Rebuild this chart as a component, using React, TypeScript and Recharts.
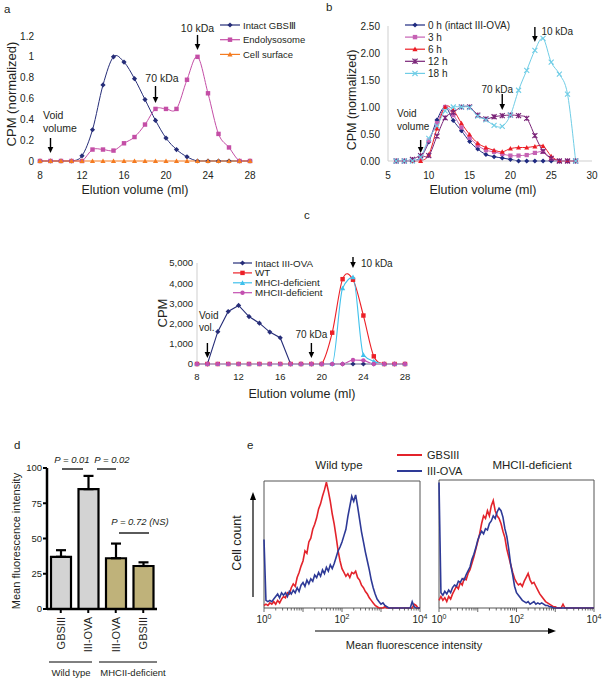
import React from 'react';
import { LineChart, Line, XAxis, YAxis, ReferenceDot, ReferenceArea, BarChart, Bar, Cell, ErrorBar } from 'recharts';

const FONT = '"Liberation Sans", Arial, Helvetica, sans-serif';
const INK = '#231f20';

// ---------------- Panel a ----------------
const aVolumes = [8, 9, 10, 11, 12, 13, 14, 15, 16, 17, 18, 19, 20, 21, 22, 23, 24, 25, 26, 27, 28];
const aIntactGBSIII = [0, 0, 0, 0, 0.05, 0.3, 0.73, 1.0, 0.95, 0.79, 0.59, 0.39, 0.22, 0.11, 0.04, 0, 0, 0, 0, 0, 0];
const aEndolysosome = [0, 0, 0, 0, 0, 0.11, 0.11, 0.1, 0.17, 0.23, 0.35, 0.5, 0.5, 0.5, 0.78, 1.0, 0.65, 0.26, 0.13, 0, 0];
const aCellSurface = [0, 0, 0, 0, 0, 0, 0, 0, 0, 0, 0, 0, 0, 0, 0, 0, 0, 0, 0, 0, 0];
const aNames = ['Intact GBS\u2162', 'Endolysosome', 'Cell  surface'];
const aColors = ['#262d78', '#c44ea6', '#f47b20'];
const aShapes = ['diamond', 'square', 'triangle'];
const aYTicks = [0, 0.2, 0.4, 0.6, 0.8, 1, 1.2];
const aXTicks = [8, 12, 16, 20, 24, 28];

// ---------------- Panel b ----------------
const bVolumes = [6, 7, 8, 9, 10, 11, 12, 13, 14, 15, 16, 17, 18, 19, 20, 21, 22, 23, 24, 25, 26, 27, 28];
const b0h = [0, 0, 0, 0.07, 0.35, 0.76, 1.0, 0.75, 0.56, 0.36, 0.22, 0.12, 0.08, 0.055, 0.03, 0, 0, 0, 0, 0, 0, 0, 0];
const b3h = [0, 0, 0, 0.05, 0.38, 0.7, 1.0, 0.85, 0.62, 0.43, 0.29, 0.2, 0.17, 0.13, 0.1, 0.1, 0.11, 0.15, 0.17, 0.05, 0, 0, 0];
const b6h = [0, 0, 0, 0, 0.12, 0.6, 1.0, 0.94, 0.7, 0.49, 0.33, 0.25, 0.2, 0.17, 0.23, 0.25, 0.25, 0.27, 0.28, 0.09, 0, 0, 0];
const b12h = [0, 0, 0.03, 0.1, 0.1, 0.46, 0.8, 0.9, 1.0, 1.0, 0.85, 0.78, 0.82, 0.84, 0.85, 0.84, 0.79, 0.47, 0.18, 0.05, 0, 0, 0];
const b18h = [0, 0, 0, 0.07, 0.42, 0.65, 0.93, 1.0, 1.0, 0.99, 0.83, 0.76, 0.66, 0.64, 0.85, 1.31, 1.68, 2.05, 2.27, 1.83, 1.61, 1.24, 0];
const bNames = ['0 h (intact III-OVA)', '3 h', '6 h', '12 h', '18 h'];
const bColors = ['#1f2a80', '#c662b4', '#ec1c24', '#7a2478', '#6fcde6'];
const bShapes = ['diamond', 'square', 'triangle', 'star', 'x'];
const bYTicks = [0, 0.5, 1, 1.5, 2, 2.5];
const bXTicks = [5, 10, 15, 20, 25, 30];

// ---------------- Panel c ----------------
const cVolumes = [8, 9, 10, 11, 12, 13, 14, 15, 16, 17, 18, 19, 20, 21, 22, 23, 24, 25, 26, 27, 28];
const cIntact = [0, 0, 1600, 2600, 2900, 2350, 2020, 1580, 1300, 0, 0, 0, 0, 0, 0, 0, 0, 0, 0, 0, 0];
const cWT = [0, 0, 0, 0, 0, 0, 0, 0, 0, 0, 0, 0, 0, 1550, 4200, 4170, 2400, 380, 0, 0, 0];
const cMHCI = [0, 0, 0, 0, 0, 0, 0, 0, 0, 0, 0, 0, 0, 0, 3750, 4300, 450, 130, 0, 0, 0];
const cMHCII = [0, 0, 0, 0, 0, 0, 0, 0, 0, 0, 0, 0, 0, 0, 0, 200, 180, 0, 0, 0, 0];
const cNames = ['Intact III-OVA', 'WT', 'MHCI-deficient', 'MHCII-deficient'];
const cColors = ['#262d78', '#ec2027', '#3fc1ec', '#c34fb0'];
const cShapes = ['diamond', 'square', 'triangle', 'circle'];
const cYTicks = [0, 1000, 2000, 3000, 4000, 5000];
const cXTicks = [8, 12, 16, 20, 24, 28];

// size markers (elution volume of arrows)
const markerVolumes = [9, 19, 23];

// ---------------- Panel d ----------------
const dCategories = ['GBSIII', 'III-OVA', 'III-OVA', 'GBSIII'];
const dGroupOf = [0, 0, 1, 1];
const dGroups = ['Wild type', 'MHCII-deficient'];
const dGroupColors = ['#d3d3d3', '#bfb27a'];
const dMeans = [37, 85, 36, 30.5];
const dErrors = [4.7, 9.4, 10.4, 2.6];
const dYTicks = [0, 25, 50, 75, 100];

// ---------------- Panel e (histograms, 20 bins per decade, 10^0..10^4) ----------------
const eWtGBSIII = [
  2, 3, 2, 4, 3, 5, 3, 6, 4, 7,
  9, 8, 12, 11, 16, 19, 17, 24, 28, 33,
  37, 45, 43, 52, 55, 62, 66, 71, 78, 82,
  88, 93, 99, 92, 84, 74, 66, 56, 45, 37,
  31, 28, 25, 27, 24, 28, 27, 29, 24, 22,
  18, 16, 13, 11, 8, 6, 4, 2, 1, 0,
  0, 0, 1, 0, 0, 0, 0, 0, 0, 0,
  0, 0, 0, 0, 0, 0, 0, 3, 2, 0,
  0,
];
const eWtIIIOVA = [
  54, 6, 5, 6, 5, 7, 9, 11, 8, 12,
  10, 12, 9, 13, 11, 14, 12, 16, 13, 18,
  20, 17, 22, 19, 23, 21, 26, 24, 28, 25,
  30, 27, 32, 29, 34, 31, 35, 40, 45, 48,
  52, 57, 62, 72, 80, 88, 84, 89, 80, 70,
  60, 52, 44, 37, 30, 22, 16, 11, 7, 5,
  3, 4, 2, 1, 0, 0, 0, 0, 0, 0,
  0, 0, 0, 0, 0, 0, 5, 1, 0, 0,
  0,
];
const eKoGBSIII = [
  6, 9, 6, 8, 5, 9, 7, 11, 14, 17,
  15, 20, 18, 23, 22, 27, 30, 35, 40, 46,
  52, 58, 66, 72, 70, 76, 72, 80, 84, 76,
  72, 70, 66, 60, 55, 46, 40, 34, 28, 23,
  20, 18, 19, 17, 21, 24, 27, 22, 19, 20,
  17, 14, 11, 9, 7, 5, 4, 3, 2, 1,
  1, 0, 0, 0, 3, 0, 0, 0, 0, 0,
  0, 0, 0, 0, 0, 0, 0, 0, 0, 0,
  0,
];
const eKoIIIOVA = [
  98, 12, 10, 13, 11, 14, 12, 16, 18, 17,
  21, 20, 23, 22, 26, 29, 32, 38, 42, 47,
  53, 57, 60, 58, 62, 61, 66, 68, 72, 70,
  75, 78, 76, 71, 62, 56, 46, 34, 26, 17,
  12, 10, 8, 6, 5, 4, 5, 3, 4, 5,
  3, 4, 3, 4, 3, 2, 2, 1, 1, 0,
  0, 0, 0, 0, 0, 0, 0, 0, 0, 0,
  0, 0, 0, 0, 0, 0, 0, 0, 0, 0,
  0,
];
const eNames = ['GBSIII', 'III-OVA'];
const eColors = ['#e3232b', '#2e3a97'];

// ---------- helpers ----------
// Excel-like smoothed line (Catmull-Rom), with control points kept above the lowest data point
const smooth: any = (context: any) => {
  let pts: number[][] = [];
  return {
    areaStart() {},
    areaEnd() {},
    lineStart() {
      pts = [];
    },
    point(x: number, y: number) {
      pts.push([+x, +y]);
    },
    lineEnd() {
      const n = pts.length;
      if (!n) return;
      const maxY = Math.max(...pts.map((p) => p[1]));
      const cl = (v: number) => Math.min(v, maxY);
      context.moveTo(pts[0][0], pts[0][1]);
      for (let i = 0; i < n - 1; i++) {
        const p0 = pts[Math.max(i - 1, 0)];
        const p1 = pts[i];
        const p2 = pts[i + 1];
        const p3 = pts[Math.min(i + 2, n - 1)];
        context.bezierCurveTo(
          p1[0] + (p2[0] - p0[0]) / 6,
          cl(p1[1] + (p2[1] - p0[1]) / 6),
          p2[0] - (p3[0] - p1[0]) / 6,
          cl(p2[1] - (p3[1] - p1[1]) / 6),
          p2[0],
          p2[1]
        );
      }
    },
  };
};

const Marker = ({ shape, cx, cy, color, s = 2.6 }: any) => {
  if (cx == null || cy == null) return null;
  switch (shape) {
    case 'diamond':
      return <path d={`M${cx},${cy - s}L${cx + s},${cy}L${cx},${cy + s}L${cx - s},${cy}Z`} fill={color} />;
    case 'square':
      return <rect x={cx - s * 0.85} y={cy - s * 0.85} width={s * 1.7} height={s * 1.7} fill={color} />;
    case 'triangle':
      return <path d={`M${cx},${cy - s}L${cx + s},${cy + s * 0.8}L${cx - s},${cy + s * 0.8}Z`} fill={color} />;
    case 'circle':
      return <circle cx={cx} cy={cy} r={s * 0.85} fill={color} />;
    case 'x':
      return (
        <path d={`M${cx - s},${cy - s}L${cx + s},${cy + s}M${cx - s},${cy + s}L${cx + s},${cy - s}`} stroke={color} strokeWidth={1.1} fill="none" />
      );
    case 'star':
      return (
        <path
          d={`M${cx - s},${cy - s}L${cx + s},${cy + s}M${cx - s},${cy + s}L${cx + s},${cy - s}M${cx},${cy - s}L${cx},${cy + s}`}
          stroke={color}
          strokeWidth={1.2}
          fill="none"
        />
      );
    default:
      return null;
  }
};

const dotOf = (shape: string, color: string, s = 2.6) => (p: any) => (
  <g key={`dot-${p.index}`}>
    <Marker shape={shape} cx={p.cx} cy={p.cy} color={color} s={s} />
  </g>
);

const Arrow = ({ cx, cy, len, lines, dx, dys, anchor, fontSize = 10 }: any) => (
  <g>
    <line x1={cx} y1={cy - len} x2={cx} y2={cy - 5} stroke="#000" strokeWidth={1.4} />
    <path d={`M${cx - 2.8},${cy - 6}L${cx + 2.8},${cy - 6}L${cx},${cy}Z`} fill="#000" />
    {lines.map((t: string, i: number) => (
      <text key={i} x={cx + dx} y={cy + dys[i]} textAnchor={anchor} dominantBaseline="central" fontSize={fontSize} fill={INK} fontFamily={FONT}>
        {t}
      </text>
    ))}
  </g>
);

const LegendBlock = ({ x0, y0, dy, names, colors, shapes, lineLen, fontSize }: any) => (
  <g>
    {names.map((n: string, i: number) => {
      const y = y0 + i * dy;
      return (
        <g key={i}>
          <line x1={x0} x2={x0 + lineLen} y1={y} y2={y} stroke={colors[i]} strokeWidth={1.2} />
          <Marker shape={shapes[i]} cx={x0 + lineLen / 2} cy={y} color={colors[i]} s={2.6} />
          <text x={x0 + lineLen + 3} y={y} dominantBaseline="central" fontSize={fontSize} fill={INK} fontFamily={FONT}>
            {n}
          </text>
        </g>
      );
    })}
  </g>
);

const tickStyle = (fs: number) => ({ fontSize: fs, fill: INK, fontFamily: FONT });
const thousands = (v: number) => String(v).replace(/\B(?=(\d{3})+(?!\d))/g, ',');

// ---------- data tables ----------
const aData = aVolumes.map((x, i) => ({ x, s0: aIntactGBSIII[i], s1: aEndolysosome[i], s2: aCellSurface[i] }));
const aSeries = [aIntactGBSIII, aEndolysosome, aCellSurface];
const bData = bVolumes.map((x, i) => ({ x, s0: b0h[i], s1: b3h[i], s2: b6h[i], s3: b12h[i], s4: b18h[i] }));
const bSeries = [b0h, b3h, b6h, b12h, b18h];
const cData = cVolumes.map((x, i) => ({ x, s0: cIntact[i], s1: cWT[i], s2: cMHCI[i], s3: cMHCII[i] }));
const dData = dCategories.map((c, i) => ({ idx: i, mean: dMeans[i], err: [0, dErrors[i]] }));
const eLeftData = eWtGBSIII.map((v, i) => ({ bin: i, g: v, o: eWtIIIOVA[i] }));
const eRightData = eKoGBSIII.map((v, i) => ({ bin: i, g: v, o: eKoIIIOVA[i] }));

const logTicks: number[] = [];
for (let d = 0; d < 4; d++) for (let k = 1; k < 10; k++) logTicks.push(20 * (d + Math.log10(k)));
logTicks.push(80);

const LogTick = (props: any) => {
  const { x, y, payload } = props;
  const v = payload.value;
  const dec = Math.round(v / 20);
  const major = Math.abs(v - dec * 20) < 1e-6;
  return (
    <g>
      <line x1={x} x2={x} y1={y} y2={y + (major ? 4 : 2.5)} stroke="#444" strokeWidth={0.8} />
      {major && dec % 2 === 0 && (
        <text x={x} y={y + 15} textAnchor="middle" fontSize={10} fill={INK} fontFamily={FONT}>
          10<tspan dy={-4} fontSize={7}>{dec}</tspan>
        </text>
      )}
    </g>
  );
};

const CatTick = (props: any) => {
  const { x, y, payload } = props;
  const tx = x + 4;
  return (
    <text x={tx} y={y} transform={`rotate(-90 ${tx} ${y})`} textAnchor="end" fontSize={11} fill={INK} fontFamily={FONT}>
      {dCategories[payload.value]}
    </text>
  );
};

// ---------- panels ----------
const PanelA = () => (
  <LineChart width={303} height={200} data={aData} margin={{ top: 36, right: 53, bottom: 9, left: 0 }}>
    <XAxis dataKey="x" type="number" domain={[8, 28]} ticks={aXTicks} interval={0} axisLine={false} tickLine={false} tickMargin={5} height={30} tick={tickStyle(10)} />
    <YAxis type="number" domain={[0, 1.2]} ticks={aYTicks} interval={0} axisLine={false} tickLine={false} tickMargin={0} width={40} tick={tickStyle(10)} />
    {aSeries.map((_, i) => (
      <Line key={i} dataKey={`s${i}`} type={smooth} stroke={aColors[i]} strokeWidth={1} dot={dotOf(aShapes[i], aColors[i])} activeDot={false} isAnimationActive={false} />
    ))}
    <ReferenceDot x={markerVolumes[0]} y={0.077} ifOverflow="visible" shape={(p: any) => <Arrow cx={p.cx} cy={p.cy} len={15} lines={['Void', 'volume']} dx={-7.5} dys={[-38, -25]} anchor="start" fontSize={10.5} />} />
    <ReferenceDot x={markerVolumes[1]} y={0.557} ifOverflow="visible" shape={(p: any) => <Arrow cx={p.cx} cy={p.cy} len={17} lines={['70 kDa']} dx={6.5} dys={[-25]} anchor="middle" fontSize={10.5} />} />
    <ReferenceDot x={markerVolumes[2]} y={1.066} ifOverflow="visible" shape={(p: any) => <Arrow cx={p.cx} cy={p.cy} len={15} lines={['10 kDa']} dx={0} dys={[-22]} anchor="middle" fontSize={10.5} />} />
  </LineChart>
);

const PanelB = () => (
  <LineChart width={303} height={200} data={bData} margin={{ top: 26, right: 11, bottom: 9, left: 0 }}>
    <XAxis dataKey="x" type="number" domain={[5, 30]} ticks={bXTicks} interval={0} axisLine={{ stroke: '#cfcfcf' }} tickLine={false} tickMargin={5} height={30} tick={tickStyle(10)} />
    <YAxis type="number" domain={[0, 2.5]} ticks={bYTicks} interval={0} axisLine={{ stroke: '#cfcfcf' }} tickLine={false} tickMargin={2} width={88} tick={tickStyle(10)} tickFormatter={(v: number) => v.toFixed(2)} />
    {bSeries.map((_, i) => (
      <Line key={i} dataKey={`s${i}`} type={smooth} stroke={bColors[i]} strokeWidth={1} dot={dotOf(bShapes[i], bColors[i], 2.5)} activeDot={false} isAnimationActive={false} />
    ))}
    <ReferenceDot x={markerVolumes[0]} y={0.148} ifOverflow="visible" shape={(p: any) => <Arrow cx={p.cx} cy={p.cy} len={13} lines={['Void', 'volume']} dx={-23.6} dys={[-40, -27]} anchor="start" fontSize={10} />} />
    <ReferenceDot x={markerVolumes[1]} y={0.944} ifOverflow="visible" shape={(p: any) => <Arrow cx={p.cx} cy={p.cy} len={16} lines={['70 kDa']} dx={-5} dys={[-21]} anchor="middle" fontSize={10} />} />
    <ReferenceDot x={markerVolumes[2]} y={2.204} ifOverflow="visible" shape={(p: any) => <Arrow cx={p.cx} cy={p.cy} len={15} lines={['10 kDa']} dx={6.5} dys={[-10]} anchor="start" fontSize={10} />} />
  </LineChart>
);

const PanelC = () => (
  <LineChart width={300} height={210} data={cData} margin={{ top: 63, right: 45, bottom: 16, left: 0 }}>
    <XAxis dataKey="x" type="number" domain={[8, 28]} ticks={cXTicks} interval={0} axisLine={{ stroke: '#cfcfcf' }} tickLine={false} tickSize={0} tickMargin={9.5} height={30} tick={tickStyle(9.5)} />
    <YAxis type="number" domain={[0, 5000]} ticks={cYTicks} interval={0} axisLine={{ stroke: '#cfcfcf' }} tickLine={false} tickSize={0} tickMargin={4} width={47} tick={tickStyle(9.5)} tickFormatter={thousands} />
    <Line dataKey="s0" type="linear" stroke={cColors[0]} strokeWidth={1.1} dot={dotOf(cShapes[0], cColors[0])} activeDot={false} isAnimationActive={false} />
    <Line dataKey="s1" type={smooth} stroke={cColors[1]} strokeWidth={1.1} dot={dotOf(cShapes[1], cColors[1])} activeDot={false} isAnimationActive={false} />
    <Line dataKey="s2" type="monotone" stroke={cColors[2]} strokeWidth={1.1} dot={dotOf(cShapes[2], cColors[2])} activeDot={false} isAnimationActive={false} />
    <Line dataKey="s3" type="monotone" stroke={cColors[3]} strokeWidth={1.1} dot={dotOf(cShapes[3], cColors[3])} activeDot={false} isAnimationActive={false} />
    <ReferenceDot x={markerVolumes[0]} y={297} ifOverflow="visible" shape={(p: any) => <Arrow cx={p.cx} cy={p.cy} len={15} lines={['Void', 'vol.']} dx={-8.4} dys={[-43, -31]} anchor="start" fontSize={10} />} />
    <ReferenceDot x={markerVolumes[1]} y={297} ifOverflow="visible" shape={(p: any) => <Arrow cx={p.cx} cy={p.cy} len={15} lines={['70 kDa']} dx={0} dys={[-24]} anchor="middle" fontSize={10} />} />
    <ReferenceDot x={markerVolumes[2]} y={4750} ifOverflow="visible" shape={(p: any) => <Arrow cx={p.cx} cy={p.cy} len={11} lines={['10 kDa']} dx={8} dys={[-5]} anchor="start" fontSize={10} />} />
  </LineChart>
);

const PanelD = () => (
  <BarChart width={230} height={260} data={dData} margin={{ top: 48, right: 73, bottom: 0, left: 0 }} barSize={20}>
    <XAxis dataKey="idx" type="category" height={71} interval={0} axisLine={{ stroke: '#000', strokeWidth: 2.5 }} tickLine={{ stroke: '#000', strokeWidth: 2 }} tickSize={4} tickMargin={4} tick={<CatTick />} />
    <YAxis type="number" domain={[0, 100]} ticks={dYTicks} interval={0} width={47} axisLine={{ stroke: '#000', strokeWidth: 2.5 }} tickLine={{ stroke: '#000', strokeWidth: 2 }} tickSize={4} tickMargin={1} tick={tickStyle(9.5)} />
    <Bar dataKey="mean" stroke="#000" strokeWidth={2.2} isAnimationActive={false}>
      {dData.map((d, i) => (
        <Cell key={i} fill={dGroupColors[dGroupOf[i]]} />
      ))}
      <ErrorBar dataKey="err" direction="y" width={5} stroke="#000" strokeWidth={2.2} />
    </Bar>
  </BarChart>
);

const Histogram = ({ data, width, margin }: any) => (
  <LineChart width={width} height={160} data={data} margin={margin}>
    <XAxis dataKey="bin" type="number" domain={[0, 80]} ticks={logTicks} interval={0} axisLine={false} tickLine={false} tickSize={0} tickMargin={0} height={14} tick={<LogTick />} />
    <YAxis type="number" domain={[0, 100]} hide />
    <ReferenceArea x1={0} x2={80} y1={0} y2={100} fill="none" fillOpacity={0} stroke="#555" strokeWidth={1} ifOverflow="visible" />
    <Line dataKey="g" type="linear" stroke={eColors[0]} strokeWidth={1.6} dot={false} activeDot={false} isAnimationActive={false} />
    <Line dataKey="o" type="linear" stroke={eColors[1]} strokeWidth={1.6} dot={false} activeDot={false} isAnimationActive={false} />
  </LineChart>
);

const Overlay = () => (
  <svg width={603} height={680} style={{ position: 'absolute', left: 0, top: 0, pointerEvents: 'none' }} fontFamily={FONT} fill={INK}>
    {/* panel letters */}
    <text x={4} y={13} fontSize={11.5}>a</text>
    <text x={326} y={11} fontSize={11.5}>b</text>
    <text x={304} y={219} fontSize={11.5}>c</text>
    <text x={14} y={449} fontSize={11.5}>d</text>
    <text x={247} y={449} fontSize={11.5}>e</text>

    {/* panel a */}
    <text x={135} y={189.5} textAnchor="middle" dominantBaseline="central" fontSize={12.5}>Elution volume (ml)</text>
    <text transform="translate(11,94) rotate(-90)" textAnchor="middle" dominantBaseline="central" fontSize={13}>CPM (normalized)</text>
    <LegendBlock x0={220} y0={25} dy={14.7} names={aNames} colors={aColors} shapes={aShapes} lineLen={20} fontSize={9.5} />

    {/* panel b */}
    <text x={483} y={189.5} textAnchor="middle" dominantBaseline="central" fontSize={12.5}>Elution volume (ml)</text>
    <text transform="translate(352,100) rotate(-90)" textAnchor="middle" dominantBaseline="central" fontSize={12.5}>CPM (normalized)</text>
    <LegendBlock x0={405} y0={25} dy={12.1} names={bNames} colors={bColors} shapes={bShapes} lineLen={20} fontSize={10} />

    {/* panel c */}
    <text x={302} y={394} textAnchor="middle" dominantBaseline="central" fontSize={12.5}>Elution volume (ml)</text>
    <text transform="translate(162,313) rotate(-90)" textAnchor="middle" dominantBaseline="central" fontSize={13}>CPM</text>
    <LegendBlock x0={233} y0={263} dy={9.9} names={cNames} colors={cColors} shapes={cShapes} lineLen={19} fontSize={9.8} />

    {/* panel d */}
    <text transform="translate(16,541) rotate(-90)" textAnchor="middle" dominantBaseline="central" fontSize={11}>Mean fluorescence intensity</text>
    <text x={72} y={459} textAnchor="middle" dominantBaseline="central" fontSize={9.5} fontStyle="italic">P = 0.01</text>
    <line x1={62} x2={83} y1={469} y2={469} stroke="#000" strokeWidth={1.3} />
    <text x={112} y={459} textAnchor="middle" dominantBaseline="central" fontSize={9.5} fontStyle="italic">P = 0.02</text>
    <line x1={97} x2={116} y1={469} y2={469} stroke="#000" strokeWidth={1.3} />
    <text x={140} y={521} textAnchor="middle" dominantBaseline="central" fontSize={9.5} fontStyle="italic">P = 0.72 (NS)</text>
    <line x1={119} x2={149} y1={533} y2={533} stroke="#000" strokeWidth={1.3} />
    <line x1={49} x2={92} y1={662} y2={662} stroke="#000" strokeWidth={1} />
    <line x1={99} x2={157} y1={662} y2={662} stroke="#000" strokeWidth={1} />
    <text x={71} y={672} textAnchor="middle" dominantBaseline="central" fontSize={9.5}>{dGroups[0]}</text>
    <text x={133} y={672} textAnchor="middle" dominantBaseline="central" fontSize={9.5}>{dGroups[1]}</text>

    {/* panel e */}
    <line x1={397} x2={422} y1={455} y2={455} stroke={eColors[0]} strokeWidth={2} />
    <text x={427} y={455} dominantBaseline="central" fontSize={11}>{eNames[0]}</text>
    <line x1={397} x2={422} y1={471} y2={471} stroke={eColors[1]} strokeWidth={2} />
    <text x={427} y={471} dominantBaseline="central" fontSize={11}>{eNames[1]}</text>
    <text x={339} y={465} textAnchor="middle" dominantBaseline="central" fontSize={11.5}>Wild type</text>
    <text x={532} y={465} textAnchor="middle" dominantBaseline="central" fontSize={11.5}>MHCII-deficient</text>
    <text transform="translate(237,543) rotate(-90)" textAnchor="middle" dominantBaseline="central" fontSize={12.5}>Cell count</text>
    <line x1={253} x2={253} y1={597} y2={499} stroke="#000" strokeWidth={1.2} />
    <path d="M250,500L256,500L253,492Z" fill="#000" />
    <line x1={315} x2={548} y1={631} y2={631} stroke="#000" strokeWidth={1.2} />
    <path d="M548,628L548,634L556,631Z" fill="#000" />
    <text x={414} y={645} textAnchor="middle" dominantBaseline="central" fontSize={11}>Mean fluorescence intensity</text>
  </svg>
);

export default function App() {
  return (
    <div style={{ position: 'absolute', left: 0, top: 0, width: 603, height: 680, background: '#fff', fontFamily: FONT, overflow: 'hidden' }}>
      <div style={{ position: 'absolute', left: 0, top: 0 }}>
        <PanelA />
      </div>
      <div style={{ position: 'absolute', left: 300, top: 0 }}>
        <PanelB />
      </div>
      <div style={{ position: 'absolute', left: 150, top: 200 }}>
        <PanelC />
      </div>
      <div style={{ position: 'absolute', left: 0, top: 420 }}>
        <PanelD />
      </div>
      <div style={{ position: 'absolute', left: 230, top: 470 }}>
        <Histogram data={eLeftData} width={200} margin={{ top: 11, right: 10, bottom: 8, left: 34 }} />
      </div>
      <div style={{ position: 'absolute', left: 405, top: 470 }}>
        <Histogram data={eRightData} width={198} margin={{ top: 10, right: 9, bottom: 8, left: 34 }} />
      </div>
      <Overlay />
    </div>
  );
}
